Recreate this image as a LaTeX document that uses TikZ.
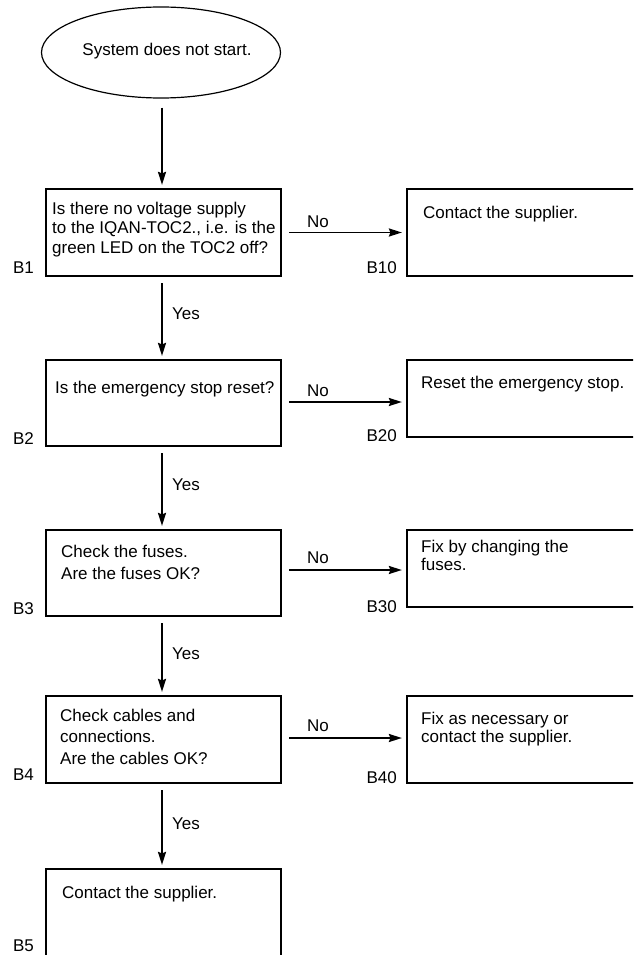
\documentclass[tikz,border=0pt]{standalone}
\usepackage{fontspec}
\setmainfont{Liberation Sans}
\usetikzlibrary{arrows.meta,shapes.geometric}
\begin{document}
\begin{tikzpicture}[x=1pt,y=-1pt,
  box/.style={draw, line width=2.2pt, inner sep=0pt},
  lbox/.style={box, minimum width=235pt},
  rbox/.style={box, minimum width=243pt},
  txt/.style={anchor=base west, align=left, inner sep=0pt, font=\fontsize{17}{20}\selectfont},
  lab/.style={anchor=base west, inner sep=0pt, font=\fontsize{17}{20}\selectfont},
  blab/.style={anchor=base east, inner sep=0pt, font=\fontsize{17}{20}\selectfont},
  arr/.style={line width=1.9pt, -{Stealth[length=13pt,width=8pt,inset=1.5pt]}},
  varr/.style={arr, shorten <=6pt, shorten >=3pt},
  harr/.style={arr, shorten <=7pt, shorten >=4pt}
]
\useasboundingbox (0,0) rectangle (633,955);
\clip (0,0) rectangle (633,955);

% start ellipse
\node[ellipse, draw, line width=1.2pt, minimum width=239pt, minimum height=91pt, inner sep=0pt] (start) at (161,52.5) {};
\node[anchor=base, inner sep=0pt, font=\fontsize{17}{20}\selectfont] (ts) at (167,56) {System does not start.};

% left column boxes
\node[lbox, minimum height=87pt] (b1) at (163.5,232.5) {};
\node[lbox, minimum height=86pt] (b2) at (163.5,403) {};
\node[lbox, minimum height=86pt] (b3) at (163.5,573) {};
\node[lbox, minimum height=87pt] (b4) at (163.5,739.5) {};
\node[lbox, minimum height=106pt] (b5) at (163.5,922) {};

% right column boxes
\node[rbox, minimum height=87pt] (b10) at (528.5,232.5) {};
\node[rbox, minimum height=77pt] (b20) at (528.5,398.5) {};
\node[rbox, minimum height=77pt] (b30) at (528.5,568.5) {};
\node[rbox, minimum height=87pt] (b40) at (528.5,739.5) {};

% texts (base anchor = baseline of the last line)
\node[txt, font=\fontsize{17}{19.5}\selectfont] (t1) at (52,253) {Is there no voltage supply\\to the IQAN-TOC2., i.e. is the\\green LED on the TOC2 off?};
\node[txt] (t2) at (55,393) {Is the emergency stop reset?};
\node[txt, font=\fontsize{17}{22}\selectfont] (t3) at (61,579) {Check the fuses.\\Are the fuses OK?};
\node[txt, font=\fontsize{17}{21.5}\selectfont] (t4) at (60,764) {Check cables and\\connections.\\Are the cables OK?};
\node[txt] (t5) at (62,898) {Contact the supplier.};
\node[txt] (t10) at (423,218) {Contact the supplier.};
\node[txt] (t20) at (421,388) {Reset the emergency stop.};
\node[txt, font=\fontsize{17}{18}\selectfont] (t30) at (421,570) {Fix by changing the\\fuses.};
\node[txt, font=\fontsize{17}{18}\selectfont] (t40) at (421,742) {Fix as necessary or\\contact the supplier.};

% box labels
\node[blab] (l1) at (34,273) {B1};
\node[blab] (l2) at (34,444) {B2};
\node[blab] (l3) at (34,614) {B3};
\node[blab] (l4) at (34,780) {B4};
\node[blab] (l5) at (34,951) {B5};
\node[blab] (l10) at (397,273) {B10};
\node[blab] (l20) at (397,441) {B20};
\node[blab] (l30) at (397,612) {B30};
\node[blab] (l40) at (397,783) {B40};

% vertical connectors
\draw[arr, shorten <=9pt, shorten >=3pt] ([xshift=1pt]start.south) -- ([xshift=1pt]start.south |- b1.north);
\draw[varr] ([xshift=-1.5pt]b1.south) -- ([xshift=-1.5pt]b2.north);
\draw[varr] ([xshift=-1.5pt]b2.south) -- ([xshift=-1.5pt]b3.north);
\draw[varr] ([xshift=-1.5pt]b3.south) -- ([xshift=-1.5pt]b4.north);
\draw[varr] ([xshift=-1.5pt]b4.south) -- ([xshift=-1.5pt]b5.north);

% horizontal connectors
\draw[harr] (b1.east) -- (b1.east -| b10.west);
\draw[harr] ([yshift=1pt]b2.east) -- ([yshift=1pt]b2.east -| b20.west);
\draw[harr] ([yshift=3pt]b3.east) -- ([yshift=3pt]b3.east -| b30.west);
\draw[harr] ([yshift=1.5pt]b4.east) -- ([yshift=1.5pt]b4.east -| b40.west);

% connector labels
\node[lab] (y1) at (172,319) {Yes};
\node[lab] (y2) at (172,490) {Yes};
\node[lab] (y3) at (172,659) {Yes};
\node[lab] (y4) at (172,829) {Yes};
\node[lab] (n1) at (307,227) {No};
\node[lab] (n2) at (307,396) {No};
\node[lab] (n3) at (307,563) {No};
\node[lab] (n4) at (307,731) {No};
\end{tikzpicture}
\end{document}
